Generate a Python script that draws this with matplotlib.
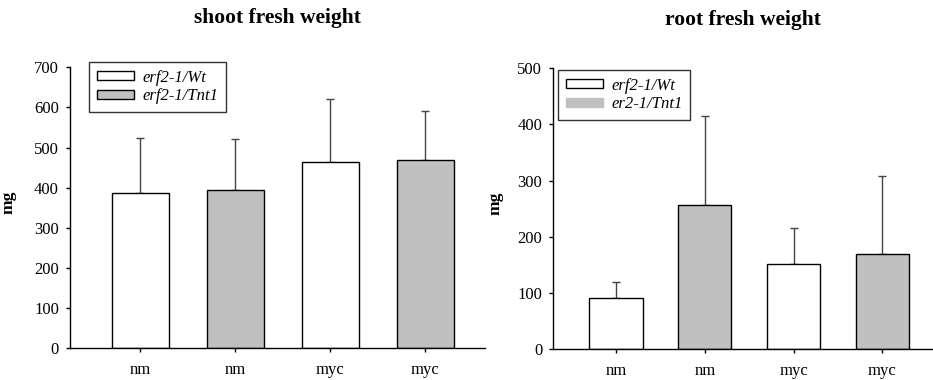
import matplotlib
matplotlib.use("Agg")
import matplotlib.pyplot as plt
from matplotlib.patches import Patch

plt.rcParams['font.family'] = ['Liberation Serif', 'DejaVu Serif']

groups = ["nm", "nm", "myc", "myc"]
bar_colors = ["white", "#c0c0c0", "white", "#c0c0c0"]

shoot_mean = [386, 395, 464, 469]
shoot_err = [138, 126, 157, 121]

root_mean = [90, 256, 151, 169]
root_err = [29, 159, 65, 139]

W, H = 933, 380
fig = plt.figure(figsize=(W / 100, H / 100), dpi=100)


def px_axes(x0, x1, y_top, y_bot):
    return fig.add_axes([x0 / W, 1 - y_bot / H, (x1 - x0) / W, (y_bot - y_top) / H])


def draw_panel(ax, means, errs, ymax, ystep, xlim, title, tpad, labels, legend_box,
               second_edge, ylab_x):
    xs = range(len(means))
    ax.bar(xs, means, width=0.6, color=bar_colors, edgecolor="black", linewidth=1.0, zorder=2)
    ax.errorbar(xs, means, yerr=[[0] * len(errs), errs], fmt="none",
                ecolor="#444444", elinewidth=1.0, capsize=2.6, capthick=1.0, zorder=1)
    ax.set_xlim(*xlim)
    ax.set_ylim(0, ymax)
    ax.set_yticks(range(0, ymax + 1, ystep))
    ax.set_xticks(list(xs))
    ax.set_xticklabels(groups)
    for s in ("top", "right"):
        ax.spines[s].set_visible(False)
    ax.spines["left"].set_linewidth(1.0)
    ax.spines["bottom"].set_linewidth(1.0)
    ax.tick_params(axis="both", direction="out", length=3, width=1.0, labelsize=12)
    ax.tick_params(axis="y", pad=5)
    ax.tick_params(axis="x", pad=7)
    ax.set_ylabel("mg", fontsize=12.5, fontweight="bold")
    ax.yaxis.set_label_coords(ylab_x, 0.52)
    ax.set_title(title, fontsize=15.5, fontweight="bold", pad=tpad)

    handles = [Patch(facecolor="white", edgecolor="black", linewidth=1.0),
               Patch(facecolor="#c0c0c0", edgecolor="black" if second_edge else "#c0c0c0",
                     linewidth=1.0)]
    x0, y0 = legend_box
    leg = ax.legend(handles, labels, loc="upper left",
                    bbox_to_anchor=(x0 / W, 1 - y0 / H), bbox_transform=fig.transFigure,
                    prop={"style": "italic", "size": 12}, frameon=True, fancybox=False,
                    framealpha=1, edgecolor="#333333", handlelength=2.25, handleheight=0.5,
                    borderpad=0.45, labelspacing=0.18, handletextpad=0.5, borderaxespad=0)
    leg.get_frame().set_linewidth(1.0)


ax1 = px_axes(70, 485, 67.3, 348.3)
draw_panel(ax1, shoot_mean, shoot_err, 700, 100, (-0.737, 3.63),
           "shoot fresh weight", 32, ["erf2-1/Wt", "erf2-1/Tnt1"], (89, 62), True, -0.128)

ax2 = px_axes(553.3, 933, 68.3, 349)
draw_panel(ax2, root_mean, root_err, 500, 100, (-0.707, 3.57),
           "root fresh weight", 31, ["erf2-1/Wt", "er2-1/Tnt1"], (558, 70), False, -0.132)

fig.savefig("out.png", dpi=100)
